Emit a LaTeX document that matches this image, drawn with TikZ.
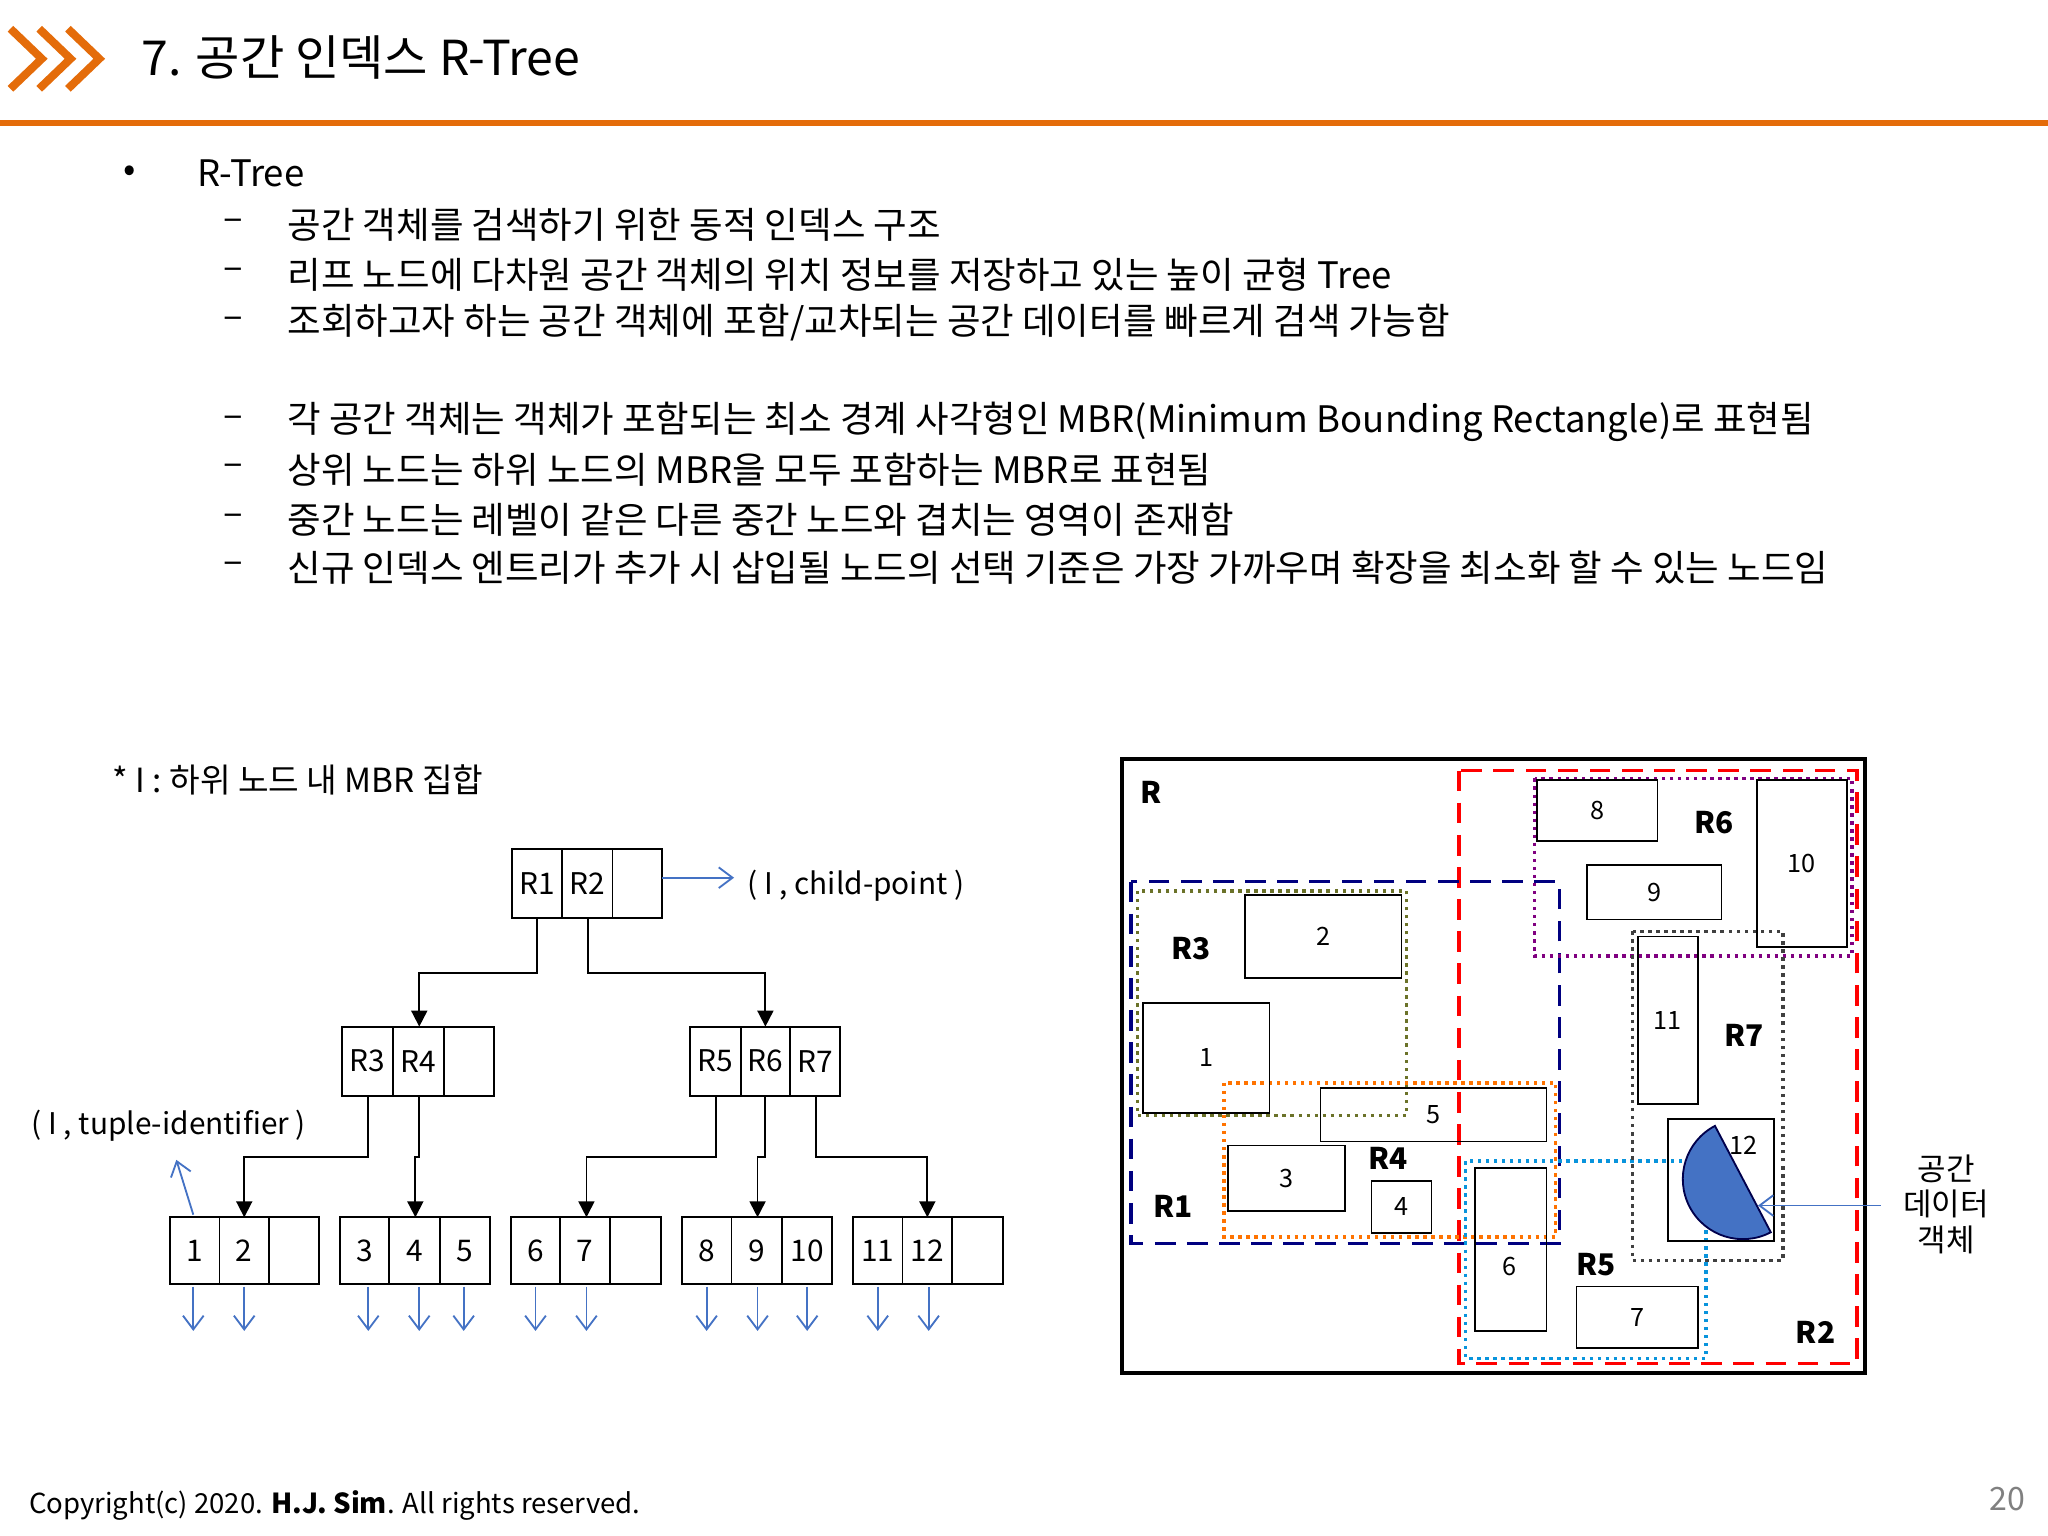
\documentclass[tikz,border=0pt]{standalone}
\usepackage{fontspec}
\setmainfont{Noto Sans CJK KR}
\usetikzlibrary{arrows.meta}
\definecolor{org}{RGB}{228,108,10}
\definecolor{blu}{RGB}{68,114,196}
\tikzset{
 bx/.style={draw,thick,minimum width=0pt,inner sep=0pt},
 lf/.style={font=\fontsize{13}{15}\selectfont},
 conn/.style={thick,-{Triangle[length=7pt,width=7pt]}},
 barr/.style={blu,thick,-{Straight Barb[length=6pt,width=9pt]}},
 bl/.style={font=\fontsize{13}{15}\selectfont\bfseries},
 sm/.style={font=\fontsize{11}{13}\selectfont},
 bt/.style={anchor=west,font=\fontsize{15.9}{18}\selectfont},
}
\newcommand{\cell}[5]{\draw[thick] (#1,#3) rectangle (#2,#4); \node[lf] at ({(#1+#2)/2},{(#3+#4)/2}) {#5};}
\newcommand{\mrect}[5]{\draw[thick] (#1,#2) rectangle (#3,#4) node[midway,sm]{#5};}
\begin{document}
\begin{tikzpicture}[x=0.02cm,y=-0.02cm]
\useasboundingbox (0,0) rectangle (1568,1176);
% title
\foreach \d in {0,22,44}{\draw[org,line width=3.5pt] (8+\d,22) -- (32+\d,45) -- (8+\d,68);}
\node[anchor=west,font=\fontsize{21}{24}\selectfont] (title) at (102,44) {7. 공간 인덱스 R-Tree};
\draw[org,line width=2.5pt] (0,94) -- (1568,94);
% bullets
\node[bt] (b0) at (88,133) {•};
\node[bt] (b0t) at (145,133) {R-Tree};
\foreach \y/\t in {172/{공간 객체를 검색하기 위한 동적 인덱스 구조},
 210/{리프 노드에 다차원 공간 객체의 위치 정보를 저장하고 있는 높이 균형 Tree},
 247/{조회하고자 하는 공간 객체에 포함/교차되는 공간 데이터를 빠르게 검색 가능함},
 323/{각 공간 객체는 객체가 포함되는 최소 경계 사각형인 MBR(Minimum Bounding Rectangle)로 표현됨},
 360/{상위 노드는 하위 노드의 MBR을 모두 포함하는 MBR로 표현됨},
 398/{중간 노드는 레벨이 같은 다른 중간 노드와 겹치는 영역이 존재함},
 435/{신규 인덱스 엔트리가 추가 시 삽입될 노드의 선택 기준은 가장 가까우며 확장을 최소화 할 수 있는 노드임}}{
 \node[bt] at (165,\y) {–};
 \node[bt] at (214,\y) {\t};}
% tree
\node[anchor=west,font=\fontsize{14.5}{17}\selectfont] (note) at (80,597) {* I : 하위 노드 내 MBR 집합};
\cell{392}{430}{650}{703}{R1}\cell{430}{469}{650}{703}{R2}\cell{469}{507}{650}{703}{}
\coordinate (ra) at (507,672); \coordinate (rb) at (562,672);
\draw[barr] (ra) -- (rb);
\node[anchor=west,lf] (cp) at (566,678) {( I , child-point )};
\cell{262}{301}{786}{839}{R3}\cell{301}{340}{786}{839}{R4}\cell{340}{378}{786}{839}{}
\cell{528}{567}{786}{839}{R5}\cell{567}{605}{786}{839}{R6}\cell{605}{643}{786}{839}{R7}
\foreach \a/\b/\c/\la/\lb in {130/168/206/1/2,260/298/337/3/4,391/429/467/6/7,522/560/599/8/9,653/691/729/11/12}{
 \cell{\a}{\b}{932}{983}{\la}\cell{\b}{\c}{932}{983}{\lb}}
\cell{206}{244}{932}{983}{}\cell{337}{375}{932}{983}{5}\cell{467}{506}{932}{983}{}
\cell{599}{637}{932}{983}{10}\cell{729}{768}{932}{983}{}
\draw[conn] (411,703) -- (411,745) -- (321,745) -- (321,786);
\draw[conn] (450,703) -- (450,745) -- (586,745) -- (586,786);
\draw[conn] (282,839) -- (282,886) -- (187,886) -- (187,932);
\draw[conn] (321,839) -- (321,886) -- (318,886) -- (318,932);
\draw[conn] (548,839) -- (548,886) -- (449,886) -- (449,932);
\draw[conn] (586,839) -- (586,886) -- (580,886) -- (580,932);
\draw[conn] (625,839) -- (625,886) -- (710,886) -- (710,932);
\foreach \x in {148,187,282,321,355,410,449,541,580,618,672,711}{\draw[barr] (\x,985) -- (\x,1019);}
\node[anchor=west,lf] (ti) at (18,862) {( I , tuple-identifier )};
\draw[barr] (148,930) -- (135,888);
% right diagram
\draw[line width=1.8pt] (859,581) rectangle (1428,1051);
\node[bl] at (881,607) {R};
\draw[red,line width=1.6pt,dash pattern=on 9pt off 5pt] (1117,590) rectangle (1422,1044);
\draw[blue!50!black,line width=1.6pt,dash pattern=on 9pt off 5pt] (866,675) rectangle (1194,952);
\draw[olive!80!green!70!black,line width=1.5pt,dotted] (871,682) rectangle (1077,854);
\draw[orange!90!red,line width=1.5pt,dotted] (937,829) rectangle (1191,947);
\draw[cyan!80!blue,line width=1.5pt,dotted] (1122,889) rectangle (1306,1040);
\draw[violet,line width=1.5pt,dotted] (1175,596) rectangle (1418,732);
\draw[darkgray,line width=1.5pt,dotted] (1250,713) rectangle (1365,965);
\mrect{1177}{597}{1269}{644}{8}
\mrect{1215}{662}{1318}{704}{9}
\mrect{1345}{597}{1414}{725}{10}
\mrect{953}{685}{1073}{749}{2}
\mrect{875}{768}{972}{852}{1}
\mrect{1011}{833}{1184}{874}{5}
\mrect{940}{877}{1030}{927}{3}
\mrect{1050}{904}{1096}{944}{4}
\draw[thick] (1129,894) rectangle (1184,1019);
\node[sm] at (1156,970) {6};
\mrect{1207}{985}{1300}{1032}{7}
\mrect{1254}{717}{1300}{845}{11}
\draw[thick] (1277,857) rectangle (1358,950);
\node[sm] at (1335,877) {12};
\draw[blue!30!black,thick,fill=blu] (1313,862) arc[start angle=117.7,end angle=297.7,radius=0.92cm] -- cycle;
\foreach \t/\x/\y in {R6/1312/630,R3/912/726,R7/1335/793,R4/1063/887,R1/898/924,R5/1222/968,R2/1390/1020}{\node[bl] at (\x,\y) {\t};}
\coordinate (oa) at (1440,923); \coordinate (ob) at (1346,923);
\draw[barr] (oa) -- (ob);
\node[align=center,font=\fontsize{13.5}{15.5}\selectfont] (obj) at (1490,922) {공간\\데이터\\객체};
% footer
\node[anchor=west,font=\fontsize{12}{15}\selectfont] (cr) at (16,1153) {Copyright(c) 2020. \textbf{H.J. Sim}. All rights reserved.};
\node[font=\fontsize{14}{16}\selectfont,gray] (pg) at (1537,1148) {20};
\end{tikzpicture}
\end{document}
